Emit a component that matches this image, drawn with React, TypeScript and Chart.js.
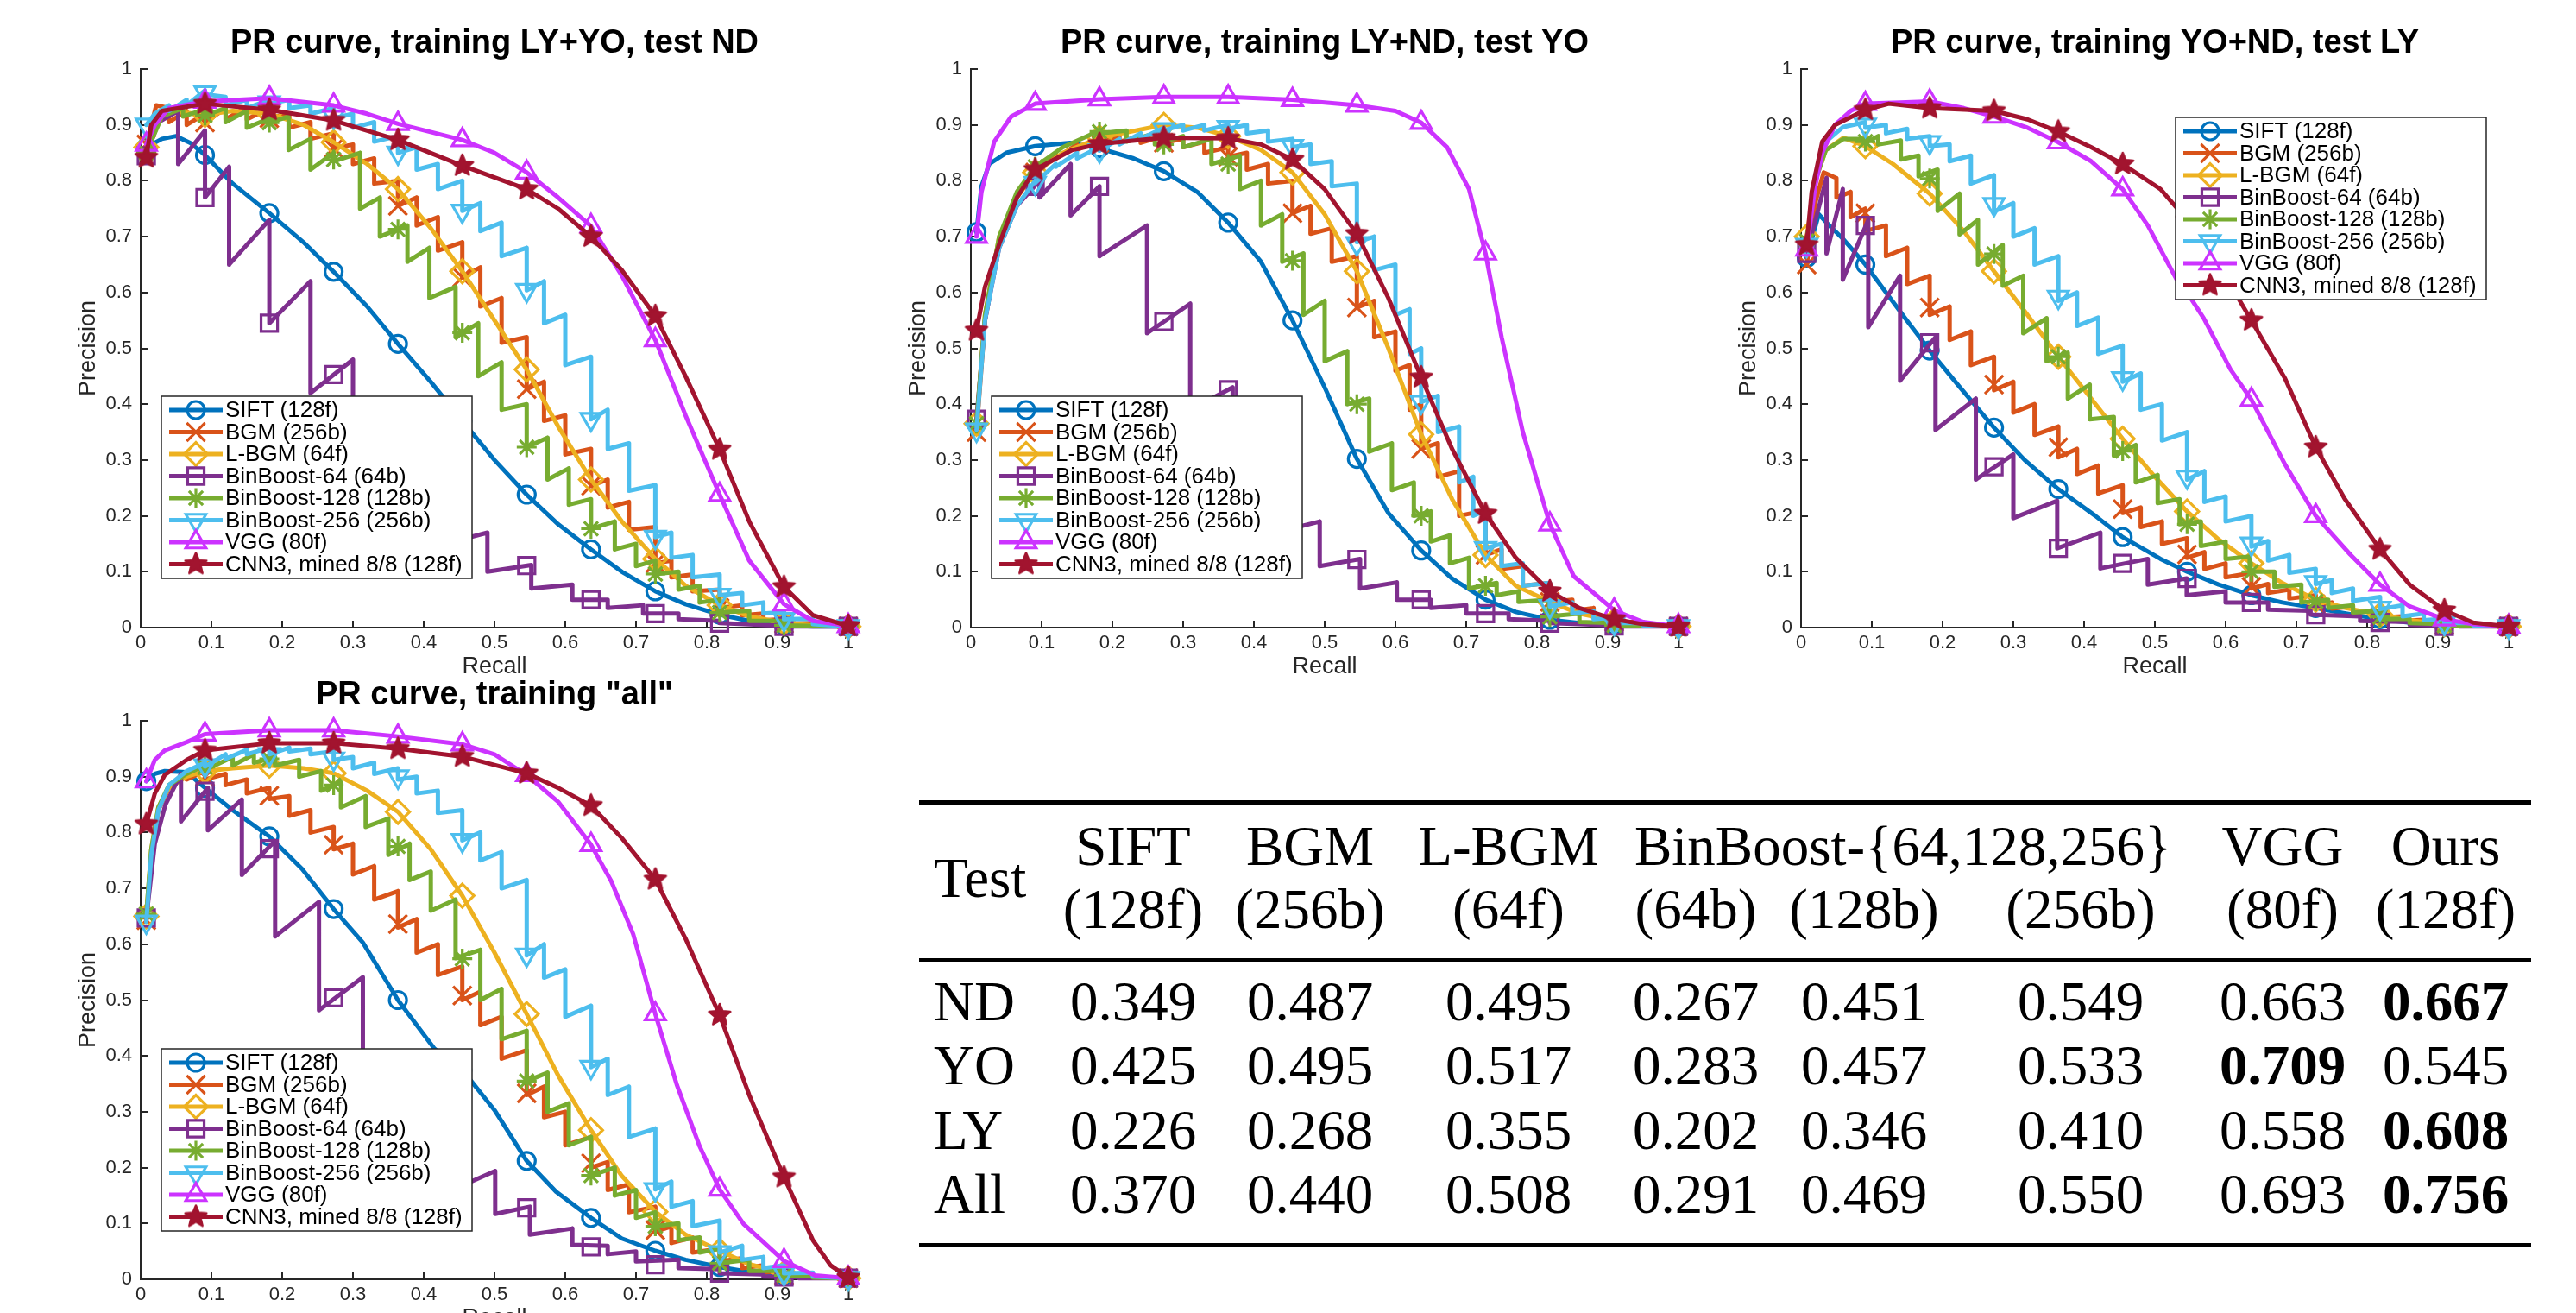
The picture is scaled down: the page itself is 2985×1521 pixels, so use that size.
import React, { useEffect, useRef, useState } from "react";
import { Chart, registerables } from "chart.js";

Chart.register(...registerables);

const FONT = '"Liberation Sans", Arial, Helvetica, sans-serif';
const SERIF = '"Liberation Serif", "Times New Roman", serif';
const AXIS = "#262626";

// ---------------- series meta ----------------
const SERIES_LABELS = [
  "SIFT (128f)",
  "BGM (256b)",
  "L-BGM (64f)",
  "BinBoost-64 (64b)",
  "BinBoost-128 (128b)",
  "BinBoost-256 (256b)",
  "VGG (80f)",
  "CNN3, mined 8/8 (128f)",
];
const SERIES_COLORS = ["#0072BD", "#D95319", "#EDB120", "#7E2F8E", "#77AC30", "#4DBEEE", "#CC33FF", "#A2142F"];
// stepped series are stored as [recall, precisionTop, precisionBottom] triples
const SERIES_STEPPED = [false, true, false, true, true, true, false, false];
const MARK_RECALL = [0.008, 0.0909, 0.1818, 0.2727, 0.3636, 0.4545, 0.5455, 0.6364, 0.7273, 0.8182, 0.9091, 1];
const AXIS_TICKS = [0, 0.1, 0.2, 0.3, 0.4, 0.5, 0.6, 0.7, 0.8, 0.9, 1];
const TICK_LABELS = ["0", "0.1", "0.2", "0.3", "0.4", "0.5", "0.6", "0.7", "0.8", "0.9", "1"];

// ---------------- Plot 1: training LY+YO, test ND ----------------
const ND_SIFT = [0.008,0.86, 0.03,0.875, 0.05,0.88, 0.07,0.868, 0.0909,0.846, 0.13,0.795, 0.1818,0.742, 0.23,0.69, 0.2727,0.637, 0.32,0.575, 0.3636,0.508, 0.41,0.44, 0.4545,0.37, 0.5,0.3, 0.5455,0.238, 0.59,0.185, 0.6364,0.14, 0.68,0.1, 0.7273,0.065, 0.77,0.042, 0.8182,0.023, 0.86,0.012, 0.9091,0.004, 0.95,0.002, 1,0.002];
const ND_SIFT_MK = [0.86,0.846,0.742,0.637,0.508,0.37,0.238,0.14,0.065,0.023,0.004,0.002];
const ND_BGM = [0.008,0.865,0.865, 0.022,0.935,0.935, 0.04,0.93,0.905, 0.065,0.925,0.9, 0.0909,0.92,0.904, 0.12,0.93,0.91, 0.15,0.932,0.91, 0.1818,0.93,0.912, 0.21,0.92,0.895, 0.24,0.905,0.875, 0.2727,0.885,0.858, 0.3,0.865,0.83, 0.33,0.84,0.795, 0.3636,0.8,0.755, 0.39,0.77,0.72, 0.42,0.735,0.675, 0.4545,0.69,0.627, 0.48,0.645,0.575, 0.51,0.59,0.51, 0.5455,0.52,0.427, 0.57,0.44,0.37, 0.6,0.38,0.31, 0.6364,0.32,0.254, 0.66,0.265,0.215, 0.69,0.225,0.175, 0.7273,0.18,0.115, 0.75,0.12,0.09, 0.78,0.095,0.065, 0.8182,0.068,0.035, 0.85,0.04,0.022, 0.88,0.025,0.013, 0.9091,0.015,0.007, 0.95,0.008,0.004, 1,0.002,0.002];
const ND_BGM_MK = [0.865,0.904,0.912,0.858,0.755,0.627,0.427,0.254,0.115,0.035,0.007,0.002];
const ND_LBGM = [0.008,0.86, 0.02,0.9, 0.04,0.925, 0.0909,0.918, 0.13,0.925, 0.1818,0.92, 0.23,0.9, 0.2727,0.869, 0.32,0.83, 0.3636,0.785, 0.41,0.715, 0.4545,0.638, 0.5,0.55, 0.5455,0.462, 0.59,0.36, 0.6364,0.265, 0.68,0.19, 0.7273,0.123, 0.77,0.075, 0.8182,0.04, 0.86,0.02, 0.9091,0.008, 0.95,0.004, 1,0.002];
const ND_LBGM_MK = [0.86,0.918,0.92,0.869,0.785,0.638,0.462,0.265,0.123,0.04,0.008,0.002];
const ND_BB64 = [0.008,0.845,0.845, 0.025,0.905,0.905, 0.053,0.925,0.83, 0.0909,0.89,0.77, 0.125,0.825,0.65, 0.1818,0.73,0.545, 0.24,0.62,0.42, 0.3,0.48,0.32, 0.37,0.37,0.22, 0.43,0.25,0.15, 0.49,0.17,0.1, 0.552,0.112,0.07, 0.61,0.077,0.05, 0.66,0.05,0.035, 0.71,0.04,0.025, 0.76,0.025,0.015, 0.8182,0.012,0.008, 0.9091,0.003,0.002, 1,0.002,0.002];
const ND_BB64_MK = [0.845,0.77,0.545,0.453,0.366,0.158,0.111,0.05,0.025,0.008,0.002,0.002];
const ND_BB128 = [0.008,0.85,0.85, 0.03,0.915,0.915, 0.06,0.93,0.915, 0.0909,0.928,0.917, 0.12,0.93,0.905, 0.15,0.925,0.895, 0.1818,0.912,0.904, 0.209,0.915,0.855, 0.24,0.875,0.82, 0.2727,0.85,0.835, 0.31,0.85,0.75, 0.338,0.77,0.7, 0.377,0.72,0.655, 0.408,0.68,0.59, 0.445,0.61,0.52, 0.477,0.545,0.45, 0.51,0.475,0.39, 0.5455,0.4,0.323, 0.575,0.34,0.265, 0.605,0.285,0.22, 0.6364,0.23,0.177, 0.67,0.19,0.14, 0.7,0.15,0.11, 0.7273,0.12,0.096, 0.76,0.1,0.068, 0.79,0.075,0.045, 0.8182,0.05,0.027, 0.86,0.03,0.012, 0.9091,0.012,0.004, 1,0.002,0.002];
const ND_BB128_MK = [0.85,0.917,0.904,0.838,0.713,0.528,0.323,0.177,0.096,0.027,0.004,0.002];
const ND_BB256 = [0.008,0.9,0.9, 0.02,0.92,0.92, 0.04,0.935,0.925, 0.065,0.945,0.935, 0.0909,0.962,0.955, 0.12,0.95,0.935, 0.15,0.945,0.93, 0.1818,0.945,0.938, 0.21,0.945,0.93, 0.24,0.935,0.92, 0.2727,0.93,0.912, 0.3,0.92,0.895, 0.33,0.905,0.87, 0.3636,0.88,0.85, 0.39,0.86,0.82, 0.42,0.83,0.785, 0.4545,0.8,0.746, 0.48,0.76,0.71, 0.51,0.725,0.665, 0.5455,0.68,0.604, 0.57,0.62,0.545, 0.6,0.56,0.47, 0.6364,0.485,0.373, 0.66,0.39,0.32, 0.69,0.33,0.245, 0.7273,0.255,0.162, 0.75,0.17,0.125, 0.78,0.13,0.09, 0.8182,0.095,0.058, 0.85,0.062,0.04, 0.88,0.045,0.025, 0.9091,0.028,0.015, 0.95,0.016,0.006, 1,0.002,0.002];
const ND_BB256_MK = [0.9,0.958,0.94,0.915,0.85,0.746,0.604,0.373,0.162,0.058,0.015,0.002];
const ND_VGG = [0.008,0.865, 0.02,0.9, 0.04,0.93, 0.0909,0.942, 0.1818,0.948, 0.2727,0.935, 0.32,0.92, 0.3636,0.902, 0.4545,0.873, 0.5,0.85, 0.5455,0.815, 0.59,0.77, 0.6364,0.719, 0.68,0.63, 0.7273,0.515, 0.77,0.38, 0.8182,0.238, 0.86,0.12, 0.9091,0.042, 0.95,0.012, 1,0.003];
const ND_VGG_MK = [0.865,0.942,0.948,0.935,0.902,0.873,0.815,0.719,0.515,0.238,0.042,0.003];
const ND_CNN3 = [0.008,0.842, 0.015,0.9, 0.03,0.925, 0.0909,0.938, 0.1818,0.927, 0.2727,0.908, 0.3636,0.873, 0.4545,0.827, 0.5455,0.785, 0.59,0.75, 0.6364,0.7, 0.68,0.64, 0.7273,0.558, 0.77,0.45, 0.8182,0.319, 0.86,0.19, 0.9091,0.073, 0.95,0.022, 1,0.003];
const ND_CNN3_MK = [0.842,0.938,0.927,0.908,0.873,0.827,0.785,0.7,0.558,0.319,0.073,0.003];

// ---------------- Plot 2: training LY+ND, test YO ----------------
const YO_SIFT = [0.008,0.708, 0.015,0.79, 0.026,0.83, 0.05,0.85, 0.0909,0.862, 0.14,0.868, 0.1818,0.858, 0.23,0.84, 0.2727,0.817, 0.32,0.78, 0.3636,0.725, 0.41,0.655, 0.4545,0.55, 0.5,0.43, 0.5455,0.302, 0.59,0.205, 0.6364,0.138, 0.68,0.088, 0.7273,0.05, 0.77,0.028, 0.8182,0.014, 0.86,0.008, 0.9091,0.004, 1,0.002];
const YO_SIFT_MK = [0.708,0.862,0.858,0.817,0.725,0.55,0.302,0.138,0.05,0.014,0.004,0.002];
const YO_BGM = [0.008,0.35,0.35, 0.02,0.55,0.55, 0.04,0.69,0.69, 0.065,0.77,0.77, 0.0909,0.82,0.815, 0.12,0.85,0.84, 0.15,0.865,0.855, 0.1818,0.875,0.868, 0.21,0.88,0.87, 0.24,0.88,0.868, 0.2727,0.88,0.868, 0.3,0.875,0.86, 0.33,0.87,0.85, 0.3636,0.86,0.843, 0.39,0.85,0.82, 0.42,0.83,0.795, 0.4545,0.8,0.742, 0.48,0.755,0.705, 0.51,0.715,0.655, 0.5455,0.665,0.573, 0.57,0.585,0.52, 0.6,0.53,0.46, 0.62,0.47,0.39, 0.6364,0.4,0.32, 0.66,0.33,0.27, 0.69,0.28,0.2, 0.7273,0.21,0.13, 0.75,0.14,0.105, 0.78,0.11,0.075, 0.8182,0.08,0.046, 0.85,0.05,0.03, 0.88,0.035,0.018, 0.9091,0.02,0.01, 0.95,0.01,0.004, 1,0.002,0.002];
const YO_BGM_MK = [0.35,0.815,0.868,0.868,0.843,0.742,0.573,0.32,0.13,0.046,0.01,0.002];
const YO_LBGM = [0.008,0.365, 0.02,0.56, 0.04,0.7, 0.065,0.77, 0.0909,0.815, 0.13,0.85, 0.1818,0.877, 0.2727,0.9, 0.32,0.895, 0.3636,0.88, 0.41,0.855, 0.4545,0.815, 0.5,0.74, 0.5455,0.638, 0.59,0.5, 0.6364,0.346, 0.68,0.23, 0.7273,0.13, 0.77,0.075, 0.8182,0.046, 0.86,0.025, 0.9091,0.012, 0.95,0.005, 1,0.002];
const YO_LBGM_MK = [0.365,0.815,0.877,0.9,0.88,0.815,0.638,0.346,0.13,0.046,0.012,0.002];
const YO_BB64 = [0.008,0.373,0.373, 0.02,0.55,0.55, 0.04,0.68,0.68, 0.065,0.755,0.755, 0.097,0.8,0.77, 0.141,0.83,0.738, 0.1818,0.79,0.665, 0.249,0.72,0.527, 0.31,0.58,0.39, 0.37,0.43,0.3, 0.43,0.34,0.17, 0.493,0.19,0.11, 0.55,0.123,0.07, 0.602,0.081,0.05, 0.65,0.05,0.035, 0.7,0.04,0.025, 0.76,0.025,0.015, 0.8182,0.012,0.008, 0.9091,0.004,0.002, 1,0.002,0.002];
const YO_BB64_MK = [0.373,0.79,0.79,0.548,0.426,0.178,0.122,0.05,0.025,0.008,0.003,0.002];
const YO_BB128 = [0.008,0.365,0.365, 0.02,0.56,0.56, 0.04,0.7,0.7, 0.065,0.78,0.78, 0.0909,0.825,0.825, 0.13,0.86,0.86, 0.1818,0.89,0.885, 0.22,0.89,0.87, 0.26,0.885,0.865, 0.3,0.88,0.86, 0.34,0.875,0.83, 0.38,0.845,0.785, 0.41,0.8,0.72, 0.44,0.74,0.655, 0.47,0.67,0.56, 0.5,0.585,0.477, 0.532,0.495,0.4, 0.563,0.41,0.315, 0.595,0.33,0.246, 0.626,0.26,0.2, 0.65,0.208,0.154, 0.677,0.165,0.115, 0.704,0.125,0.07, 0.743,0.08,0.058, 0.774,0.065,0.046, 0.817,0.05,0.02, 0.86,0.025,0.01, 0.9091,0.008,0.004, 1,0.002,0.002];
const YO_BB128_MK = [0.365,0.825,0.888,0.865,0.83,0.657,0.4,0.2,0.075,0.019,0.004,0.002];
const YO_BB256 = [0.008,0.354,0.354, 0.02,0.55,0.55, 0.04,0.68,0.68, 0.065,0.755,0.755, 0.0909,0.8,0.796, 0.12,0.83,0.825, 0.15,0.85,0.84, 0.1818,0.86,0.854, 0.21,0.875,0.865, 0.24,0.885,0.875, 0.2727,0.895,0.89, 0.3,0.9,0.89, 0.33,0.9,0.89, 0.3636,0.9,0.893, 0.39,0.9,0.885, 0.42,0.89,0.87, 0.4545,0.875,0.86, 0.48,0.865,0.83, 0.51,0.835,0.79, 0.5455,0.795,0.69, 0.57,0.7,0.64, 0.6,0.65,0.56, 0.62,0.57,0.49, 0.6364,0.5,0.404, 0.66,0.415,0.35, 0.69,0.36,0.26, 0.71,0.27,0.2, 0.7273,0.21,0.142, 0.75,0.15,0.11, 0.78,0.115,0.075, 0.8182,0.08,0.038, 0.85,0.045,0.025, 0.88,0.03,0.015, 0.9091,0.018,0.008, 0.95,0.008,0.004, 1,0.002,0.002];
const YO_BB256_MK = [0.354,0.796,0.854,0.892,0.896,0.862,0.688,0.404,0.142,0.038,0.008,0.002];
const YO_VGG = [0.008,0.7, 0.015,0.78, 0.033,0.87, 0.057,0.915, 0.0909,0.938, 0.1818,0.946, 0.2727,0.95, 0.3636,0.95, 0.4545,0.945, 0.5455,0.935, 0.6,0.925, 0.6364,0.904, 0.673,0.86, 0.704,0.785, 0.7273,0.67, 0.75,0.52, 0.78,0.35, 0.8182,0.185, 0.852,0.092, 0.9091,0.031, 0.95,0.01, 1,0.002];
const YO_VGG_MK = [0.7,0.938,0.946,0.95,0.95,0.945,0.935,0.904,0.67,0.185,0.031,0.003];
const YO_CNN3 = [0.008,0.532, 0.02,0.61, 0.041,0.69, 0.065,0.77, 0.0909,0.82, 0.143,0.855, 0.1818,0.866, 0.2727,0.877, 0.3636,0.876, 0.41,0.865, 0.4545,0.838, 0.5,0.785, 0.5455,0.705, 0.59,0.59, 0.6364,0.448, 0.68,0.32, 0.7273,0.204, 0.77,0.125, 0.8182,0.065, 0.86,0.035, 0.9091,0.015, 0.95,0.006, 1,0.002];
const YO_CNN3_MK = [0.532,0.82,0.866,0.877,0.876,0.838,0.705,0.448,0.204,0.065,0.015,0.002];

// ---------------- Plot 3: training YO+ND, test LY ----------------
const LY_SIFT = [0.008,0.662, 0.025,0.74, 0.04,0.72, 0.06,0.695, 0.0909,0.65, 0.12,0.6, 0.147,0.554, 0.1818,0.496, 0.224,0.431, 0.2727,0.358, 0.316,0.3, 0.3636,0.248, 0.416,0.2, 0.4545,0.162, 0.508,0.123, 0.5455,0.1, 0.59,0.077, 0.6364,0.058, 0.68,0.045, 0.7273,0.035, 0.77,0.025, 0.8182,0.015, 0.86,0.009, 0.9091,0.004, 1,0.002];
const LY_SIFT_MK = [0.662,0.65,0.496,0.358,0.248,0.162,0.1,0.058,0.035,0.015,0.004,0.002];
const LY_BGM = [0.008,0.65,0.65, 0.02,0.76,0.76, 0.032,0.815,0.815, 0.05,0.805,0.77, 0.07,0.78,0.735, 0.0909,0.75,0.71, 0.12,0.72,0.665, 0.15,0.68,0.615, 0.1818,0.63,0.56, 0.21,0.575,0.515, 0.24,0.53,0.47, 0.2727,0.485,0.425, 0.3,0.44,0.385, 0.33,0.4,0.345, 0.3636,0.36,0.305, 0.39,0.32,0.275, 0.42,0.29,0.24, 0.4545,0.255,0.205, 0.48,0.215,0.18, 0.51,0.19,0.15, 0.5455,0.16,0.125, 0.57,0.135,0.105, 0.6,0.115,0.09, 0.6364,0.098,0.07, 0.66,0.078,0.062, 0.69,0.068,0.052, 0.7273,0.058,0.04, 0.75,0.045,0.034, 0.78,0.038,0.027, 0.8182,0.03,0.018, 0.85,0.02,0.012, 0.88,0.014,0.008, 0.9091,0.009,0.004, 0.95,0.005,0.003, 1,0.002,0.002];
const LY_BGM_MK = [0.65,0.742,0.573,0.435,0.323,0.212,0.131,0.073,0.042,0.019,0.004,0.002];
const LY_LBGM = [0.008,0.7, 0.02,0.8, 0.035,0.855, 0.06,0.877, 0.0909,0.862, 0.13,0.83, 0.1818,0.777, 0.23,0.71, 0.2727,0.638, 0.32,0.56, 0.3636,0.485, 0.41,0.41, 0.4545,0.338, 0.5,0.27, 0.5455,0.208, 0.59,0.158, 0.6364,0.115, 0.68,0.08, 0.7273,0.05, 0.77,0.035, 0.8182,0.023, 0.86,0.013, 0.9091,0.006, 0.95,0.003, 1,0.002];
const LY_LBGM_MK = [0.7,0.862,0.777,0.638,0.485,0.338,0.208,0.115,0.05,0.023,0.006,0.002];
const LY_BB64 = [0.008,0.67,0.67, 0.036,0.805,0.67, 0.059,0.785,0.623, 0.095,0.73,0.538, 0.14,0.63,0.442, 0.19,0.52,0.354, 0.247,0.41,0.265, 0.3,0.31,0.196, 0.362,0.227,0.142, 0.423,0.17,0.106, 0.49,0.123,0.077, 0.545,0.088,0.058, 0.6,0.065,0.045, 0.66,0.045,0.032, 0.72,0.03,0.023, 0.79,0.02,0.012, 0.86,0.01,0.005, 0.93,0.003,0.002, 1,0.002,0.002];
const LY_BB64_MK = [0.67,0.72,0.51,0.288,0.142,0.115,0.088,0.045,0.023,0.009,0.002,0.002];
const LY_BB128 = [0.008,0.692,0.692, 0.02,0.8,0.8, 0.035,0.855,0.855, 0.06,0.875,0.875, 0.0909,0.875,0.868, 0.109,0.88,0.865, 0.141,0.872,0.838, 0.166,0.845,0.808, 0.193,0.82,0.746, 0.224,0.777,0.704, 0.25,0.73,0.65, 0.285,0.685,0.612, 0.314,0.63,0.527, 0.347,0.554,0.477, 0.377,0.492,0.41, 0.408,0.435,0.373, 0.442,0.377,0.308, 0.473,0.327,0.26, 0.504,0.273,0.223, 0.535,0.23,0.185, 0.565,0.19,0.146, 0.6,0.154,0.123, 0.634,0.127,0.1, 0.669,0.1,0.073, 0.707,0.077,0.045, 0.745,0.05,0.035, 0.78,0.04,0.027, 0.82,0.03,0.015, 0.86,0.016,0.008, 0.9091,0.006,0.003, 1,0.002,0.002];
const LY_BB128_MK = [0.692,0.87,0.804,0.669,0.485,0.316,0.185,0.1,0.047,0.019,0.004,0.002];
const LY_BB256 = [0.008,0.685,0.685, 0.02,0.81,0.81, 0.035,0.87,0.87, 0.059,0.896,0.896, 0.0909,0.905,0.895, 0.12,0.9,0.885, 0.15,0.893,0.875, 0.1818,0.88,0.862, 0.21,0.865,0.835, 0.24,0.845,0.795, 0.2727,0.81,0.745, 0.3,0.76,0.7, 0.33,0.715,0.65, 0.3636,0.665,0.585, 0.39,0.6,0.54, 0.42,0.555,0.49, 0.4545,0.505,0.44, 0.48,0.455,0.39, 0.51,0.4,0.335, 0.5455,0.35,0.265, 0.57,0.28,0.225, 0.6,0.235,0.19, 0.6364,0.2,0.145, 0.66,0.155,0.12, 0.69,0.13,0.098, 0.7273,0.105,0.078, 0.75,0.085,0.062, 0.78,0.07,0.048, 0.8182,0.055,0.033, 0.85,0.04,0.02, 0.88,0.025,0.013, 0.9091,0.016,0.008, 0.95,0.008,0.004, 1,0.002,0.002];
const LY_BB256_MK = [0.685,0.9,0.869,0.758,0.592,0.446,0.27,0.15,0.081,0.035,0.008,0.002];
const LY_VGG = [0.008,0.677, 0.02,0.79, 0.03,0.85, 0.048,0.9, 0.07,0.925, 0.0909,0.938, 0.14,0.94, 0.1818,0.942, 0.23,0.93, 0.2727,0.915, 0.32,0.895, 0.3636,0.869, 0.41,0.835, 0.4545,0.785, 0.49,0.72, 0.53,0.625, 0.5455,0.6, 0.569,0.554, 0.607,0.462, 0.6364,0.408, 0.684,0.292, 0.7273,0.2, 0.776,0.131, 0.8182,0.077, 0.86,0.038, 0.9091,0.015, 0.95,0.006, 1,0.002];
const LY_VGG_MK = [0.677,0.938,0.942,0.915,0.869,0.785,0.6,0.408,0.2,0.077,0.015,0.002];
const LY_CNN3 = [0.008,0.685, 0.015,0.78, 0.03,0.87, 0.048,0.9, 0.0909,0.927, 0.124,0.938, 0.1818,0.93, 0.2727,0.925, 0.32,0.91, 0.3636,0.888, 0.41,0.86, 0.4545,0.83, 0.508,0.785, 0.5455,0.73, 0.59,0.65, 0.6364,0.55, 0.684,0.446, 0.7273,0.323, 0.768,0.231, 0.8182,0.14, 0.86,0.077, 0.9091,0.031, 0.95,0.009, 1,0.002];
const LY_CNN3_MK = [0.685,0.927,0.93,0.925,0.888,0.83,0.73,0.55,0.323,0.14,0.031,0.002];

// ---------------- Plot 4: training "all" ----------------
const ALL_SIFT = [0.008,0.892, 0.02,0.905, 0.034,0.91, 0.065,0.908, 0.0909,0.88, 0.13,0.84, 0.1818,0.793, 0.228,0.735, 0.2727,0.663, 0.314,0.603, 0.3636,0.5, 0.415,0.413, 0.4545,0.375, 0.5,0.303, 0.5455,0.212, 0.587,0.157, 0.6364,0.11, 0.68,0.073, 0.7273,0.051, 0.77,0.035, 0.8182,0.022, 0.86,0.013, 0.9091,0.007, 0.95,0.003, 1,0.002];
const ALL_SIFT_MK = [0.892,0.88,0.793,0.663,0.5,0.375,0.212,0.11,0.051,0.022,0.007,0.002];
const ALL_BGM = [0.008,0.643,0.643, 0.015,0.76,0.76, 0.025,0.84,0.84, 0.04,0.88,0.88, 0.065,0.905,0.895, 0.0909,0.91,0.895, 0.12,0.905,0.885, 0.15,0.895,0.87, 0.1818,0.88,0.86, 0.21,0.865,0.83, 0.24,0.84,0.8, 0.2727,0.81,0.77, 0.3,0.78,0.725, 0.33,0.74,0.68, 0.3636,0.695,0.63, 0.39,0.645,0.585, 0.42,0.6,0.545, 0.4545,0.56,0.5, 0.48,0.515,0.455, 0.51,0.47,0.395, 0.5455,0.41,0.33, 0.57,0.345,0.29, 0.6,0.3,0.24, 0.6364,0.255,0.2, 0.66,0.21,0.16, 0.69,0.17,0.12, 0.7273,0.13,0.085, 0.75,0.095,0.065, 0.78,0.075,0.048, 0.8182,0.055,0.032, 0.85,0.038,0.02, 0.88,0.025,0.012, 0.9091,0.015,0.007, 0.95,0.008,0.004, 1,0.002,0.002];
const ALL_BGM_MK = [0.643,0.9,0.866,0.778,0.636,0.508,0.333,0.208,0.088,0.033,0.007,0.002];
const ALL_LBGM = [0.008,0.65, 0.015,0.77, 0.025,0.845, 0.04,0.88, 0.065,0.9, 0.0909,0.91, 0.13,0.915, 0.1818,0.92, 0.23,0.915, 0.2727,0.906, 0.32,0.875, 0.3636,0.837, 0.41,0.77, 0.4545,0.687, 0.5,0.585, 0.5455,0.475, 0.59,0.365, 0.6364,0.267, 0.68,0.185, 0.7273,0.121, 0.77,0.08, 0.8182,0.051, 0.86,0.027, 0.9091,0.011, 0.95,0.005, 1,0.002];
const ALL_LBGM_MK = [0.65,0.91,0.92,0.906,0.837,0.687,0.475,0.267,0.121,0.051,0.011,0.002];
const ALL_BB64 = [0.008,0.647,0.647, 0.02,0.78,0.78, 0.035,0.85,0.85, 0.057,0.905,0.82, 0.095,0.88,0.804, 0.143,0.859,0.724, 0.19,0.785,0.614, 0.252,0.676,0.482, 0.314,0.541,0.36, 0.38,0.4,0.26, 0.44,0.29,0.16, 0.501,0.194,0.117, 0.55,0.13,0.08, 0.61,0.091,0.062, 0.66,0.06,0.045, 0.7,0.05,0.032, 0.76,0.035,0.02, 0.8182,0.018,0.011, 0.88,0.009,0.005, 0.93,0.004,0.002, 1,0.002,0.002];
const ALL_BB64_MK = [0.647,0.874,0.771,0.504,0.39,0.168,0.128,0.058,0.026,0.011,0.004,0.002];
const ALL_BB128 = [0.008,0.654,0.654, 0.015,0.77,0.77, 0.025,0.845,0.845, 0.04,0.885,0.885, 0.065,0.905,0.905, 0.0909,0.92,0.912, 0.13,0.935,0.92, 0.16,0.94,0.925, 0.19,0.935,0.92, 0.224,0.93,0.9, 0.255,0.91,0.875, 0.283,0.89,0.845, 0.318,0.865,0.81, 0.35,0.825,0.76, 0.38,0.78,0.715, 0.41,0.73,0.66, 0.445,0.68,0.575, 0.48,0.59,0.5, 0.51,0.52,0.43, 0.5455,0.445,0.355, 0.575,0.37,0.3, 0.605,0.315,0.24, 0.6364,0.255,0.186, 0.67,0.2,0.15, 0.7,0.16,0.11, 0.7273,0.12,0.095, 0.76,0.1,0.07, 0.79,0.075,0.048, 0.8182,0.055,0.029, 0.86,0.035,0.015, 0.9091,0.015,0.007, 0.95,0.006,0.003, 1,0.002,0.002];
const ALL_BB128_MK = [0.654,0.917,0.932,0.885,0.775,0.574,0.355,0.186,0.095,0.029,0.007,0.002];
const ALL_BB256 = [0.008,0.64,0.64, 0.015,0.76,0.76, 0.025,0.84,0.84, 0.04,0.885,0.885, 0.065,0.91,0.91, 0.0909,0.925,0.918, 0.12,0.94,0.932, 0.15,0.948,0.94, 0.1818,0.952,0.94, 0.21,0.952,0.945, 0.24,0.95,0.94, 0.2727,0.945,0.93, 0.3,0.935,0.915, 0.33,0.925,0.905, 0.3636,0.915,0.895, 0.39,0.9,0.87, 0.42,0.875,0.835, 0.4545,0.84,0.786, 0.48,0.8,0.75, 0.51,0.765,0.7, 0.5455,0.715,0.58, 0.57,0.6,0.54, 0.6,0.555,0.47, 0.6364,0.49,0.38, 0.66,0.395,0.33, 0.69,0.345,0.255, 0.7273,0.27,0.161, 0.75,0.175,0.13, 0.78,0.14,0.095, 0.8182,0.105,0.048, 0.85,0.06,0.035, 0.88,0.04,0.02, 0.9091,0.025,0.011, 0.95,0.012,0.005, 1,0.002,0.002];
const ALL_BB256_MK = [0.64,0.92,0.94,0.932,0.9,0.786,0.581,0.38,0.161,0.048,0.011,0.002];
const ALL_VGG = [0.008,0.892, 0.02,0.93, 0.034,0.947, 0.065,0.962, 0.0909,0.976, 0.1818,0.983, 0.2727,0.983, 0.3636,0.972, 0.4545,0.958, 0.5,0.94, 0.5455,0.903, 0.59,0.855, 0.6364,0.778, 0.665,0.713, 0.696,0.618, 0.7273,0.475, 0.758,0.347, 0.79,0.238, 0.8182,0.161, 0.852,0.099, 0.9091,0.033, 0.953,0.007, 1,0.002];
const ALL_VGG_MK = [0.892,0.976,0.983,0.983,0.972,0.958,0.903,0.778,0.475,0.161,0.033,0.002];
const ALL_CNN3 = [0.008,0.815, 0.02,0.87, 0.034,0.903, 0.065,0.93, 0.0909,0.947, 0.1818,0.96, 0.2727,0.96, 0.3636,0.95, 0.4545,0.936, 0.5455,0.906, 0.59,0.88, 0.6364,0.848, 0.68,0.79, 0.7273,0.716, 0.77,0.61, 0.8182,0.473, 0.86,0.33, 0.9091,0.183, 0.95,0.07, 0.975,0.025, 1,0.003];
const ALL_CNN3_MK = [0.815,0.947,0.96,0.96,0.95,0.936,0.906,0.848,0.716,0.473,0.183,0.003];

// ---------------- table ----------------
const TABLE_TESTS = ["ND", "YO", "LY", "All"];
const TABLE_HEAD1 = ["SIFT", "BGM", "L-BGM", "BinBoost-{64,128,256}", "VGG", "Ours"];
const TABLE_HEAD2 = ["(128f)", "(256b)", "(64f)", "(64b)", "(128b)", "(256b)", "(80f)", "(128f)"];
const TABLE_ND = [0.349, 0.487, 0.495, 0.267, 0.451, 0.549, 0.663, 0.667];
const TABLE_YO = [0.425, 0.495, 0.517, 0.283, 0.457, 0.533, 0.709, 0.545];
const TABLE_LY = [0.226, 0.268, 0.355, 0.202, 0.346, 0.41, 0.558, 0.608];
const TABLE_ALL = [0.37, 0.44, 0.508, 0.291, 0.469, 0.55, 0.693, 0.756];
const TABLE_ROWS = [TABLE_ND, TABLE_YO, TABLE_LY, TABLE_ALL];

// ---------------- layout ----------------
const PLOT_W = 820;
const PLOT_H = 647;
const Y_AXIS_W = 103;
const X_AXIS_H = 70;
const TITLE_BLOCK = 80;
const PAD_R = 20;
const LEG_W = 360;
const LEG_H = 211;
const LINE_W = 5;
const MARK_W = 3.2;

type PlotCfg = {
  title: string;
  axLeft: number;
  axTop: number;
  legend: { dx: number; dy: number };
  lines: number[][];
  marks: number[][];
};

const PLOTS: PlotCfg[] = [
  {
    title: "PR curve, training LY+YO, test ND",
    axLeft: 163, axTop: 80, legend: { dx: 24, dy: 379 },
    lines: [ND_SIFT, ND_BGM, ND_LBGM, ND_BB64, ND_BB128, ND_BB256, ND_VGG, ND_CNN3],
    marks: [ND_SIFT_MK, ND_BGM_MK, ND_LBGM_MK, ND_BB64_MK, ND_BB128_MK, ND_BB256_MK, ND_VGG_MK, ND_CNN3_MK],
  },
  {
    title: "PR curve, training LY+ND, test YO",
    axLeft: 1125, axTop: 80, legend: { dx: 24, dy: 379 },
    lines: [YO_SIFT, YO_BGM, YO_LBGM, YO_BB64, YO_BB128, YO_BB256, YO_VGG, YO_CNN3],
    marks: [YO_SIFT_MK, YO_BGM_MK, YO_LBGM_MK, YO_BB64_MK, YO_BB128_MK, YO_BB256_MK, YO_VGG_MK, YO_CNN3_MK],
  },
  {
    title: "PR curve, training YO+ND, test LY",
    axLeft: 2087, axTop: 80, legend: { dx: 434, dy: 56 },
    lines: [LY_SIFT, LY_BGM, LY_LBGM, LY_BB64, LY_BB128, LY_BB256, LY_VGG, LY_CNN3],
    marks: [LY_SIFT_MK, LY_BGM_MK, LY_LBGM_MK, LY_BB64_MK, LY_BB128_MK, LY_BB256_MK, LY_VGG_MK, LY_CNN3_MK],
  },
  {
    title: 'PR curve, training "all"',
    axLeft: 163, axTop: 835, legend: { dx: 24, dy: 380 },
    lines: [ALL_SIFT, ALL_BGM, ALL_LBGM, ALL_BB64, ALL_BB128, ALL_BB256, ALL_VGG, ALL_CNN3],
    marks: [ALL_SIFT_MK, ALL_BGM_MK, ALL_LBGM_MK, ALL_BB64_MK, ALL_BB128_MK, ALL_BB256_MK, ALL_VGG_MK, ALL_CNN3_MK],
  },
];

function toPoints(arr: number[], stepped: boolean) {
  const pts: { x: number; y: number }[] = [];
  if (stepped) {
    for (let k = 0; k + 2 < arr.length; k += 3) {
      pts.push({ x: arr[k], y: arr[k + 1] });
      if (arr[k + 2] !== arr[k + 1]) pts.push({ x: arr[k], y: arr[k + 2] });
    }
  } else {
    for (let k = 0; k + 1 < arr.length; k += 2) pts.push({ x: arr[k], y: arr[k + 1] });
  }
  return pts;
}

function makePentagram(color: string, R: number) {
  const c = document.createElement("canvas");
  const s = Math.ceil(2 * R + 4);
  c.width = s;
  c.height = s;
  const g = c.getContext("2d");
  if (g) {
    g.beginPath();
    for (let k = 0; k < 10; k++) {
      const r = k % 2 === 0 ? R : R * 0.45;
      const a = -Math.PI / 2 + (k * Math.PI) / 5;
      const px = s / 2 + r * Math.cos(a);
      const py = s / 2 + r * Math.sin(a);
      if (k === 0) g.moveTo(px, py);
      else g.lineTo(px, py);
    }
    g.closePath();
    g.fillStyle = color;
    g.fill();
    g.lineJoin = "round";
    g.lineWidth = 2.5;
    g.strokeStyle = color;
    g.stroke();
  }
  return c;
}

type MStyle = { pointStyle: any; radius: number; rotation: number };

function markerStyles(): MStyle[] {
  return [
    { pointStyle: "circle", radius: 10, rotation: 0 },
    { pointStyle: "crossRot", radius: 15, rotation: 0 },
    { pointStyle: "rectRot", radius: 13.5, rotation: 0 },
    { pointStyle: "rect", radius: 13.5, rotation: 0 },
    { pointStyle: "star", radius: 11.5, rotation: 0 },
    { pointStyle: "triangle", radius: 13.5, rotation: 180 },
    { pointStyle: "triangle", radius: 13.5, rotation: 0 },
    { pointStyle: makePentagram(SERIES_COLORS[7], 13), radius: 12, rotation: 0 },
  ];
}

// own marker drawing for the legend (same geometry as Chart.js point styles)
function drawLegendMarker(ctx: CanvasRenderingContext2D, st: MStyle, x: number, y: number) {
  const r = st.radius;
  if (typeof st.pointStyle !== "string") {
    const img = st.pointStyle as HTMLCanvasElement;
    ctx.drawImage(img, x - img.width / 2, y - img.height / 2);
    return;
  }
  ctx.beginPath();
  const rad0 = (st.rotation * Math.PI) / 180;
  switch (st.pointStyle) {
    case "circle":
      ctx.arc(x, y, r, 0, Math.PI * 2);
      ctx.closePath();
      break;
    case "rect": {
      const s = Math.SQRT1_2 * r;
      ctx.rect(x - s, y - s, 2 * s, 2 * s);
      break;
    }
    case "rectRot":
      ctx.moveTo(x - r, y);
      ctx.lineTo(x, y - r);
      ctx.lineTo(x + r, y);
      ctx.lineTo(x, y + r);
      ctx.closePath();
      break;
    case "triangle": {
      let rad = rad0;
      ctx.moveTo(x + Math.sin(rad) * r, y - Math.cos(rad) * r);
      rad += (2 * Math.PI) / 3;
      ctx.lineTo(x + Math.sin(rad) * r, y - Math.cos(rad) * r);
      rad += (2 * Math.PI) / 3;
      ctx.lineTo(x + Math.sin(rad) * r, y - Math.cos(rad) * r);
      ctx.closePath();
      break;
    }
    case "crossRot": {
      const o = Math.SQRT1_2 * r;
      ctx.moveTo(x - o, y - o);
      ctx.lineTo(x + o, y + o);
      ctx.moveTo(x + o, y - o);
      ctx.lineTo(x - o, y + o);
      break;
    }
    case "star": {
      const o = Math.SQRT1_2 * r;
      ctx.moveTo(x, y - r);
      ctx.lineTo(x, y + r);
      ctx.moveTo(x - r, y);
      ctx.lineTo(x + r, y);
      ctx.moveTo(x - o, y - o);
      ctx.lineTo(x + o, y + o);
      ctx.moveTo(x + o, y - o);
      ctx.lineTo(x - o, y + o);
      break;
    }
    default:
      break;
  }
  ctx.stroke();
}

const tickPlugin = {
  id: "inwardTicks",
  beforeDatasetsDraw(chart: any) {
    const { ctx, chartArea: a, scales } = chart;
    ctx.save();
    ctx.strokeStyle = AXIS;
    ctx.lineWidth = 2;
    ctx.beginPath();
    AXIS_TICKS.forEach((v) => {
      const px = Math.round(scales.x.getPixelForValue(v));
      ctx.moveTo(px, a.bottom);
      ctx.lineTo(px, a.bottom - 8);
      const py = Math.round(scales.y.getPixelForValue(v));
      ctx.moveTo(a.left, py);
      ctx.lineTo(a.left + 8, py);
    });
    ctx.stroke();
    ctx.restore();
  },
};

function legendPlugin(pos: { dx: number; dy: number }, styles: MStyle[]) {
  return {
    id: "matlabLegend",
    afterDatasetsDraw(chart: any) {
      const { ctx, chartArea } = chart;
      const x0 = chartArea.left + pos.dx;
      const y0 = chartArea.top + pos.dy;
      ctx.save();
      ctx.setLineDash([]);
      ctx.fillStyle = "#ffffff";
      ctx.fillRect(x0, y0, LEG_W, LEG_H);
      ctx.lineWidth = 1.5;
      ctx.strokeStyle = AXIS;
      ctx.strokeRect(x0, y0, LEG_W, LEG_H);
      ctx.font = `26px ${FONT}`;
      ctx.textBaseline = "middle";
      ctx.textAlign = "left";
      SERIES_LABELS.forEach((label, i) => {
        const cy = y0 + 16 + i * 25.5;
        ctx.strokeStyle = SERIES_COLORS[i];
        ctx.lineWidth = LINE_W;
        ctx.lineCap = "butt";
        ctx.beginPath();
        ctx.moveTo(x0 + 9, cy);
        ctx.lineTo(x0 + 71, cy);
        ctx.stroke();
        ctx.lineWidth = MARK_W;
        drawLegendMarker(ctx, styles[i], x0 + 40, cy);
        ctx.fillStyle = "#000000";
        ctx.fillText(label, x0 + 74, cy + 1);
      });
      ctx.restore();
    },
  };
}

function PRChart({ cfg }: { cfg: PlotCfg }) {
  const ref = useRef<HTMLCanvasElement | null>(null);
  const [err, setErr] = useState<string>("");
  const cw = Y_AXIS_W + PLOT_W + PAD_R;
  const ch = TITLE_BLOCK + PLOT_H + X_AXIS_H;
  const left = cfg.axLeft - Y_AXIS_W;
  const top = cfg.axTop - TITLE_BLOCK;

  useEffect(() => {
    const canvas = ref.current;
    if (!canvas) return;
    let chart: any = null;
    try {
      const styles = markerStyles();
      const datasets: any[] = [];
      SERIES_LABELS.forEach((label, i) => {
        datasets.push({
          label,
          data: toPoints(cfg.lines[i], SERIES_STEPPED[i]),
          borderColor: SERIES_COLORS[i],
          backgroundColor: SERIES_COLORS[i],
          borderWidth: LINE_W,
          pointRadius: 0,
          pointHoverRadius: 0,
          pointHitRadius: 0,
          fill: false,
          tension: 0,
          clip: false,
          borderJoinStyle: "round",
          borderCapStyle: "round",
          order: 100 - 2 * i,
        });
        datasets.push({
          label: label + " markers",
          data: MARK_RECALL.map((x, k) => ({ x, y: cfg.marks[i][k] })),
          showLine: false,
          borderColor: SERIES_COLORS[i],
          backgroundColor: "rgba(0,0,0,0)",
          pointStyle: styles[i].pointStyle,
          pointRadius: styles[i].radius,
          pointHoverRadius: styles[i].radius,
          pointRotation: styles[i].rotation,
          pointBorderWidth: MARK_W,
          pointBorderColor: SERIES_COLORS[i],
          pointBackgroundColor: "rgba(0,0,0,0)",
          clip: false,
          order: 99 - 2 * i,
        });
      });

      const tickFont = { family: FONT, size: 22 };
      chart = new Chart(canvas, {
        type: "line",
        data: { datasets },
        options: {
          responsive: false,
          animation: false,
          devicePixelRatio: 1,
          events: [],
          layout: { padding: { left: 0, right: PAD_R, top: 0, bottom: 0 } },
          plugins: {
            legend: { display: false },
            tooltip: { enabled: false },
            title: {
              display: true,
              text: cfg.title,
              fullSize: false,
              color: "#000000",
              font: { family: FONT, size: 38, weight: "bold", lineHeight: 1.2 },
              padding: { top: 28.2, bottom: 6.2 },
            },
          },
          scales: {
            x: {
              type: "linear",
              min: 0,
              max: 1,
              grid: { display: false, drawTicks: false },
              border: { display: true, color: AXIS, width: 2 },
              ticks: {
                stepSize: 0.1,
                autoSkip: false,
                maxRotation: 0,
                padding: 5,
                color: AXIS,
                font: tickFont,
                callback: (v: any) => TICK_LABELS[Math.round(Number(v) * 10)],
              },
              title: {
                display: true,
                text: "Recall",
                color: AXIS,
                font: { family: FONT, size: 27, lineHeight: 1.2 },
                padding: { top: 0, bottom: 7.8 },
              },
              afterFit: (s: any) => {
                s.height = X_AXIS_H;
              },
            },
            y: {
              type: "linear",
              min: 0,
              max: 1,
              grid: { display: false, drawTicks: false },
              border: { display: true, color: AXIS, width: 2 },
              ticks: {
                stepSize: 0.1,
                autoSkip: false,
                padding: 10,
                color: AXIS,
                font: tickFont,
                callback: (v: any) => TICK_LABELS[Math.round(Number(v) * 10)],
              },
              title: {
                display: true,
                text: "Precision",
                color: AXIS,
                font: { family: FONT, size: 27, lineHeight: 1.2 },
                padding: { top: 26.8, bottom: 0 },
              },
              afterFit: (s: any) => {
                s.width = Y_AXIS_W;
              },
            },
          },
        } as any,
        plugins: [tickPlugin, legendPlugin(cfg.legend, styles)] as any,
      });
    } catch (e: any) {
      setErr(String(e && e.stack ? e.stack : e));
    }
    return () => {
      if (chart) chart.destroy();
    };
  }, [cfg]);

  return (
    <>
      <canvas
        ref={ref}
        width={cw}
        height={ch}
        style={{ position: "absolute", left, top, width: cw, height: ch, display: "block" }}
      />
      {err ? (
        <pre style={{ position: "absolute", left, top: top + 100, width: cw, color: "red", fontSize: 16, whiteSpace: "pre-wrap" }}>{err}</pre>
      ) : null}
    </>
  );
}

// ---------------- table (HTML) ----------------
const TF = 65;
const T_LEFT = 1065;
const T_RIGHT = 2933;
const COL_X = [1313, 1518, 1748, 1965, 2160, 2411, 2645, 2834];
const HEAD1_X = [1313, 1518, 1748, 2205, 2645, 2834];
const LABEL_X = 1082;
const HEAD1_BASE = 1002;
const HEAD2_BASE = 1075;
const TEST_BASE = 1039;
const ROW_BASE = [1182, 1256.5, 1331, 1405.5];

function TCell({ x, base, text, bold, left }: { x: number; base: number; text: string; bold?: boolean; left?: boolean }) {
  return (
    <div
      style={{
        position: "absolute",
        left: x,
        top: base - 0.8375 * TF,
        transform: left ? "none" : "translateX(-50%)",
        fontFamily: SERIF,
        fontSize: TF,
        lineHeight: `${TF}px`,
        fontWeight: bold ? "bold" : "normal",
        whiteSpace: "nowrap",
        color: "#000",
      }}
    >
      {text}
    </div>
  );
}

function ResultsTable() {
  const rule = (key: string, top: number, h: number) => (
    <div key={key} style={{ position: "absolute", left: T_LEFT, top, width: T_RIGHT - T_LEFT, height: h, background: "#000" }} />
  );
  const cells: any[] = [];
  cells.push(rule("r1", 926.5, 5));
  cells.push(rule("r2", 1110, 3.5));
  cells.push(rule("r3", 1439.5, 5));
  cells.push(<TCell key="test" x={LABEL_X} base={TEST_BASE} text="Test" left />);
  TABLE_HEAD1.forEach((t, i) => cells.push(<TCell key={"h1" + i} x={HEAD1_X[i]} base={HEAD1_BASE} text={t} />));
  TABLE_HEAD2.forEach((t, i) => cells.push(<TCell key={"h2" + i} x={COL_X[i]} base={HEAD2_BASE} text={t} />));
  TABLE_ROWS.forEach((row, r) => {
    const mx = Math.max(...row);
    cells.push(<TCell key={"lab" + r} x={LABEL_X} base={ROW_BASE[r]} text={TABLE_TESTS[r]} left />);
    row.forEach((v, c) =>
      cells.push(<TCell key={"c" + r + "_" + c} x={COL_X[c]} base={ROW_BASE[r]} text={v.toFixed(3)} bold={v === mx} />)
    );
  });
  return <>{cells}</>;
}

export default function App() {
  useEffect(() => {
    document.documentElement.style.overflow = "hidden";
    document.body.style.overflow = "hidden";
  }, []);
  return (
    <div>
      {PLOTS.map((p, i) => (
        <PRChart key={i} cfg={p} />
      ))}
      <ResultsTable />
    </div>
  );
}
